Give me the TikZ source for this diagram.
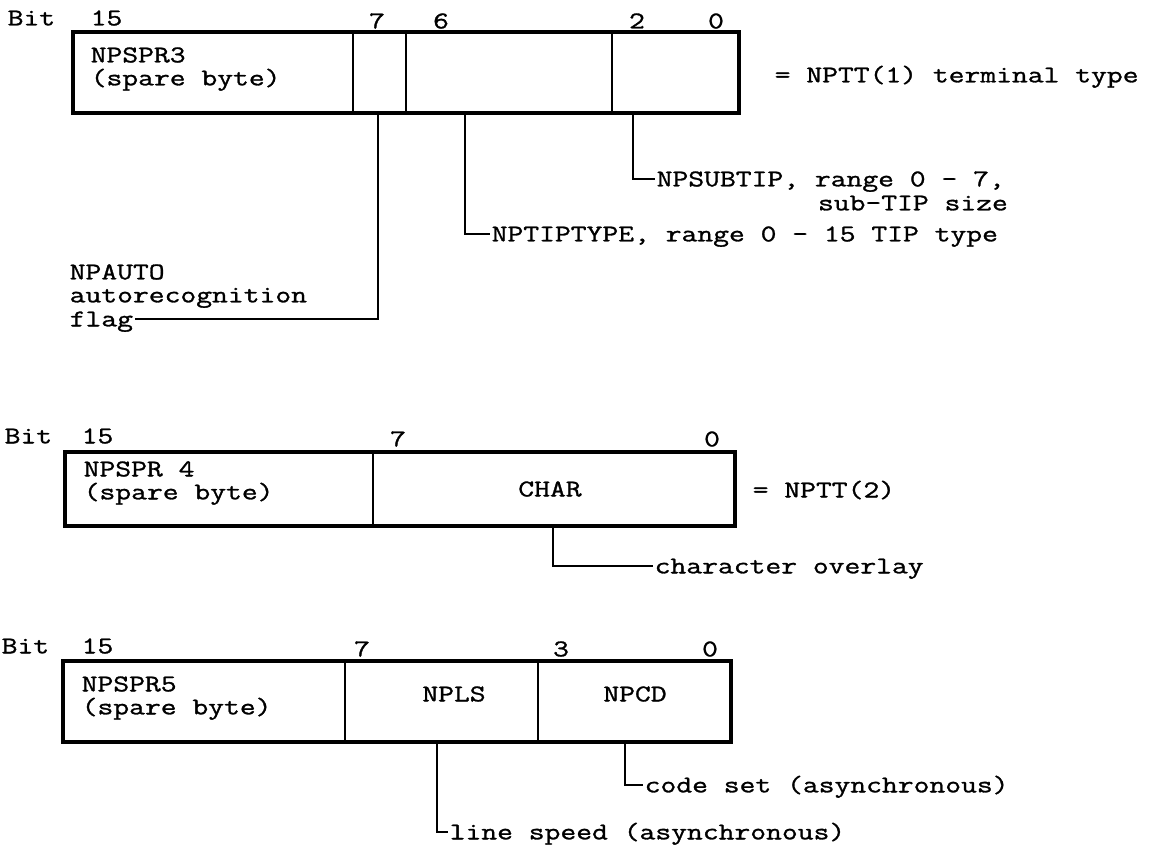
\documentclass[tikz,border=0pt]{standalone}
\usepackage{fontspec}
\newfontfamily\tw{Latin Modern Mono}[FakeStretch=1.28,FakeBold=1.2]
\begin{document}
\begin{tikzpicture}[x=1pt,y=-1pt,
  lbl/.style={font=\tw\fontsize{24}{24}\selectfont, inner sep=1.5pt, text height=14.7pt, text depth=0pt},
  boxline/.style={line width=3.4pt, line join=miter},
  divline/.style={line width=1.9pt},
  conn/.style={line width=2.1pt}]
\path[use as bounding box, fill=white] (0,0) rectangle (1162,857);

% ---------- Diagram 1 ----------
\node[lbl,anchor=west] (bit1) at (6,18) {Bit};
\node[lbl,anchor=west] (b1n15) at (89,18) {15};
\node[lbl] (b1n7) at (377,21) {7};
\node[lbl] (b1n6) at (441,21) {6};
\node[lbl] (b1n2) at (637,21) {2};
\node[lbl] (b1n0) at (716,21) {0};
\draw[boxline] (73,32) rectangle (739,113);
\draw[divline] (353,32) -- (353,113);
\draw[divline] (406,32) -- (406,113);
\draw[divline] (612,32) -- (612,113);
\node[lbl,anchor=west] (spr3a) at (89,55) {NPSPR3};
\node[lbl,anchor=west] (spr3b) at (89,78) {(spare byte)};
\node[lbl,anchor=west] (nptt1) at (773,75) {= NPTT(1) terminal type};
\node[lbl,anchor=west] (subtip) at (655,179) {NPSUBTIP, range 0 - 7,};
\node[lbl,anchor=west] (subtip2) at (816.3,203) {sub-TIP size};
\node[lbl,anchor=west] (tiptype) at (490,234) {NPTIPTYPE, range 0 - 15 TIP type};
\node[lbl,anchor=west] (auto1) at (68,272) {NPAUTO};
\node[lbl,anchor=west] (auto2) at (68,295) {autorecognition};
\node[lbl,anchor=west] (auto3) at (68,319) {flag};
\coordinate (c1a) at (633,113);
\coordinate (c1b) at (465,113);
\coordinate (c1c) at (378,113);
\draw[conn] (c1a) |- (subtip.west);
\draw[conn] (c1b) |- (tiptype.west);
\draw[conn] (c1c) |- (auto3.east);

% ---------- Diagram 2 ----------
\node[lbl,anchor=west] (bit2) at (3,436) {Bit};
\node[lbl,anchor=west] (b2n15) at (80,436) {15};
\node[lbl] (b2n7) at (398,439) {7};
\node[lbl] (b2n0) at (712,439) {0};
\draw[boxline] (65,452) rectangle (735,526);
\draw[divline] (373,452) -- (373,526);
\node[lbl,anchor=west] (spr4a) at (82,469) {NPSPR 4};
\node[lbl,anchor=west] (spr4b) at (82,492) {(spare byte)};
\node[lbl] (char) at (550,489) {CHAR};
\node[lbl,anchor=west] (nptt2) at (751,490) {= NPTT(2)};
\node[lbl,anchor=west] (overlay) at (653,566) {character overlay};
\coordinate (c2a) at (553,526);
\draw[conn] (c2a) |- (overlay.west);

% ---------- Diagram 3 ----------
\node[lbl,anchor=west] (bit3) at (0,646) {Bit};
\node[lbl,anchor=west] (b3n15) at (80,646) {15};
\node[lbl] (b3n7) at (362,649) {7};
\node[lbl] (b3n3) at (561,649) {3};
\node[lbl] (b3n0) at (710,649) {0};
\draw[boxline] (63,661) rectangle (731,742);
\draw[divline] (345,661) -- (345,742);
\draw[divline] (538,661) -- (538,742);
\node[lbl,anchor=west] (spr5a) at (80,684) {NPSPR5};
\node[lbl,anchor=west] (spr5b) at (80,707) {(spare byte)};
\node[lbl] (npls) at (454,694) {NPLS};
\node[lbl] (npcd) at (635,694) {NPCD};
\node[lbl,anchor=west] (codeset) at (643,785) {code set (asynchronous)};
\node[lbl,anchor=west] (lspeed) at (448,832) {line speed (asynchronous)};
\coordinate (c3a) at (625,742);
\coordinate (c3b) at (437,742);
\draw[conn] (c3a) |- (codeset.west);
\draw[conn] (c3b) |- (lspeed.west);
\end{tikzpicture}
\end{document}
